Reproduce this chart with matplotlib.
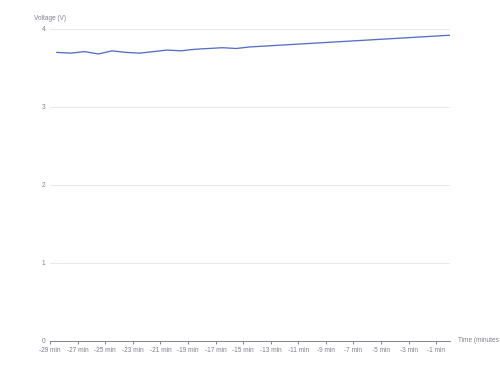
import matplotlib
matplotlib.use("Agg")
import matplotlib.pyplot as plt

plt.rcParams['font.family'] = ['Liberation Sans', 'DejaVu Sans']

# время (минут назад) и напряжение
minutes = [-28.5, -27.5, -26.5, -25.5, -24.5, -23.5, -22.5, -21.5,
           -20.5, -19.5, -18.5, -17.5, -16.5, -15.5, -14.5, 0]
voltage = [3.70, 3.69, 3.71, 3.68, 3.72, 3.70, 3.69, 3.71,
           3.73, 3.72, 3.74, 3.75, 3.76, 3.75, 3.77, 3.92]

x_ticks = list(range(-29, 0, 2))
x_labels = [f"{t} min" for t in x_ticks]
y_ticks = [0, 1, 2, 3, 4]

axis_col = '#6E7079'
text_col = '#7E8089'
grid_col = '#E0E6F1'
fs = 4.7

fig = plt.figure(figsize=(5, 3.75), dpi=100)
ax = fig.add_axes([0.1, 0.0907, 0.8, 0.832])

ax.plot(minutes, voltage, color='#5470C6', linewidth=0.95, solid_joinstyle='round', zorder=3)

ax.set_xlim(-29, 0)
ax.set_ylim(0, 4)
ax.set_xticks(x_ticks)
ax.set_xticklabels(x_labels)
ax.set_yticks(y_ticks)

for y in y_ticks[1:]:
    ax.axhline(y, color=grid_col, linewidth=0.6, zorder=1)

for s in ['top', 'right', 'left']:
    ax.spines[s].set_visible(False)
ax.spines['bottom'].set_color(axis_col)
ax.spines['bottom'].set_linewidth(0.6)

ax.tick_params(axis='x', direction='out', length=2.2, width=0.6, color=axis_col,
               labelcolor=text_col, labelsize=fs, pad=2)
ax.tick_params(axis='y', length=0, labelcolor=text_col, labelsize=fs, pad=3.6)

fig.text(0.1, 1 - 19 / 375, 'Voltage (V)', ha='center', va='center',
         fontsize=fs, color=text_col)
fig.text(458 / 500, 1 - 341 / 375, 'Time (minutes ago)', ha='left', va='center',
         fontsize=fs, color=text_col)

fig.savefig('out.png', dpi=100)
